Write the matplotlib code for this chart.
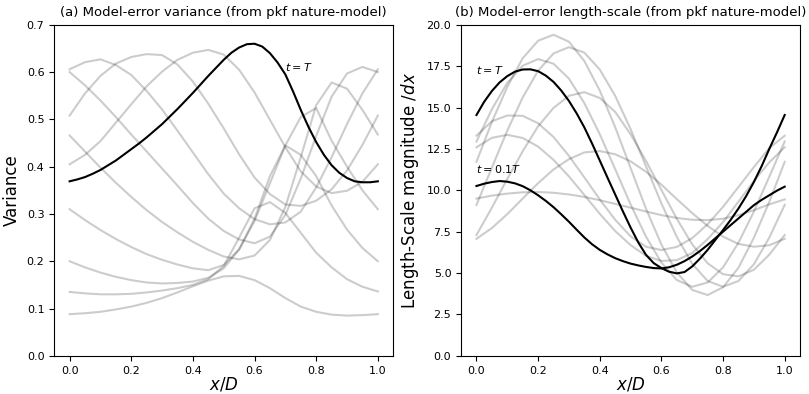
import numpy as np
import matplotlib
matplotlib.use("Agg")
import matplotlib.pyplot as plt

# grids along the domain
x = np.linspace(0.0, 1.0, 21)
xf = np.linspace(0.0, 1.0, 41)

# (a) variance, gray = intermediate times
var_gray = [
    [0.088, 0.090, 0.093, 0.098, 0.104, 0.112, 0.122, 0.134, 0.147, 0.159, 0.168,
     0.169, 0.160, 0.143, 0.122, 0.104, 0.093, 0.087, 0.085, 0.086, 0.088],
    [0.135, 0.132, 0.130, 0.130, 0.131, 0.134, 0.138, 0.143, 0.150, 0.162, 0.190,
     0.250, 0.312, 0.325, 0.302, 0.260, 0.218, 0.187, 0.162, 0.146, 0.136],
    [0.200, 0.187, 0.176, 0.167, 0.160, 0.155, 0.153, 0.154, 0.157, 0.165, 0.185,
     0.225, 0.290, 0.380, 0.445, 0.425, 0.380, 0.318, 0.267, 0.228, 0.200],
    [0.310, 0.287, 0.266, 0.247, 0.230, 0.215, 0.203, 0.193, 0.185, 0.181, 0.192,
     0.225, 0.285, 0.365, 0.445, 0.505, 0.524, 0.455, 0.400, 0.350, 0.310],
    [0.466, 0.432, 0.398, 0.366, 0.336, 0.308, 0.283, 0.261, 0.241, 0.224, 0.210,
     0.204, 0.212, 0.245, 0.315, 0.420, 0.530, 0.578, 0.565, 0.520, 0.468],
    [0.600, 0.572, 0.540, 0.505, 0.468, 0.432, 0.396, 0.360, 0.323, 0.290, 0.264,
     0.246, 0.238, 0.252, 0.298, 0.375, 0.465, 0.548, 0.597, 0.611, 0.600],
    [0.606, 0.621, 0.627, 0.615, 0.594, 0.560, 0.521, 0.476, 0.430, 0.384, 0.343,
     0.312, 0.289, 0.278, 0.282, 0.305, 0.356, 0.420, 0.490, 0.555, 0.606],
    [0.508, 0.555, 0.592, 0.618, 0.632, 0.638, 0.636, 0.616, 0.580, 0.533, 0.481,
     0.426, 0.377, 0.342, 0.320, 0.317, 0.328, 0.352, 0.392, 0.446, 0.508],
    [0.405, 0.425, 0.454, 0.493, 0.532, 0.570, 0.601, 0.626, 0.641, 0.647, 0.637,
     0.605, 0.557, 0.499, 0.441, 0.390, 0.358, 0.344, 0.349, 0.368, 0.405],
]
# t = T, on the finer grid
var_T = [0.369, 0.373, 0.378, 0.385, 0.393, 0.403, 0.413, 0.425, 0.437, 0.449,
         0.462, 0.476, 0.490, 0.506, 0.522, 0.539, 0.556, 0.574, 0.592, 0.609,
         0.626, 0.641, 0.652, 0.659, 0.660, 0.654, 0.640, 0.620, 0.595, 0.559,
         0.520, 0.484, 0.452, 0.425, 0.403, 0.387, 0.376, 0.369, 0.367, 0.367,
         0.369]

# (b) length-scale
ls_gray = [
    [11.72, 14.13, 16.25, 17.98, 19.04, 19.40, 18.98, 17.81, 16.03, 13.82, 11.35,
     8.89, 6.72, 5.04, 3.98, 3.67, 4.14, 5.32, 7.13, 9.30, 11.72],
    [9.12, 11.37, 13.61, 15.61, 17.23, 18.27, 18.65, 18.32, 17.30, 15.71, 13.70,
     11.45, 9.21, 7.18, 5.56, 4.52, 4.17, 4.52, 5.53, 7.14, 9.12],
    [12.95, 14.90, 16.49, 17.53, 17.93, 17.65, 16.75, 15.27, 13.39, 11.28, 9.15,
     7.20, 5.63, 4.58, 4.17, 4.43, 5.34, 6.83, 8.71, 10.82, 12.95],
    [7.30, 8.95, 10.69, 12.36, 13.87, 14.98, 15.71, 15.93, 15.58, 14.74, 13.39,
     11.78, 10.02, 8.28, 6.73, 5.59, 4.93, 4.80, 5.20, 6.11, 7.30],
    [13.30, 14.17, 14.52, 14.50, 14.05, 13.22, 12.08, 10.78, 9.45, 8.22, 7.22,
     6.59, 6.39, 6.58, 7.11, 7.95, 9.00, 10.20, 11.40, 12.55, 13.30],
    [12.60, 13.17, 13.35, 13.16, 12.64, 11.84, 10.84, 9.72, 8.58, 7.54, 6.69,
     6.04, 5.73, 5.78, 6.21, 7.05, 8.08, 9.31, 10.56, 11.69, 12.60],
    [7.07, 7.72, 8.56, 9.50, 10.43, 11.26, 11.88, 12.29, 12.37, 12.18, 11.75,
     11.12, 10.34, 9.47, 8.62, 7.85, 7.20, 6.76, 6.59, 6.68, 7.07],
    [9.50, 9.68, 9.80, 9.88, 9.90, 9.85, 9.75, 9.60, 9.40, 9.18, 8.95,
     8.72, 8.50, 8.33, 8.22, 8.20, 8.28, 8.50, 8.80, 9.15, 9.45],
]
# t = 0.1T and t = T, on the finer grid
ls_01T = [10.26, 10.40, 10.50, 10.56, 10.52, 10.42, 10.25, 10.00, 9.70, 9.36,
          8.98, 8.55, 8.10, 7.62, 7.15, 6.74, 6.40, 6.13, 5.90, 5.72,
          5.57, 5.46, 5.37, 5.30, 5.28, 5.35, 5.50, 5.72, 6.00, 6.33,
          6.70, 7.10, 7.50, 7.90, 8.30, 8.70, 9.10, 9.42, 9.70, 9.98,
          10.22]
ls_T = [14.55, 15.35, 16.00, 16.52, 16.90, 17.17, 17.30, 17.31, 17.20, 16.93,
        16.55, 16.03, 15.40, 14.65, 13.80, 12.83, 11.80, 10.77, 9.75, 8.73,
        7.75, 6.85, 6.10, 5.60, 5.30, 5.08, 4.98, 5.06, 5.40, 5.87,
        6.40, 7.00, 7.60, 8.22, 8.90, 9.65, 10.50, 11.45, 12.50, 13.50,
        14.55]

fig, (ax1, ax2) = plt.subplots(1, 2, figsize=(8.09, 3.94), dpi=100)
plt.subplots_adjust(left=0.067, right=0.989, bottom=0.097, top=0.937, wspace=0.2)

for v in var_gray:
    ax1.plot(x, v, color='k', alpha=0.2, lw=1.5)
ax1.plot(xf, var_T, color='k', lw=1.5)
ax1.text(0.70, 0.61, '$t=T$', fontsize=8, va='center')
ax1.set_ylim(0, 0.7)
ax1.set_title('(a) Model-error variance (from pkf nature-model)', fontsize=9.5)
ax1.set_ylabel('Variance', fontsize=12)
ax1.set_xlabel('$x/D$', fontsize=12, labelpad=0)

for v in ls_gray:
    ax2.plot(x, v, color='k', alpha=0.2, lw=1.5)
ax2.plot(xf, ls_01T, color='k', lw=1.5)
ax2.plot(xf, ls_T, color='k', lw=1.5)
ax2.text(0.0, 17.3, '$t=T$', fontsize=8, va='center')
ax2.text(0.0, 11.3, '$t=0.1T$', fontsize=8, va='center')
ax2.set_ylim(0, 20)
ax2.set_title('(b) Model-error length-scale (from pkf nature-model)', fontsize=9.5)
ax2.set_ylabel('Length-Scale magnitude $/dx$', fontsize=12)
ax2.set_xlabel('$x/D$', fontsize=12, labelpad=0)

for ax in (ax1, ax2):
    ax.tick_params(labelsize=8)

plt.savefig('out.png')
